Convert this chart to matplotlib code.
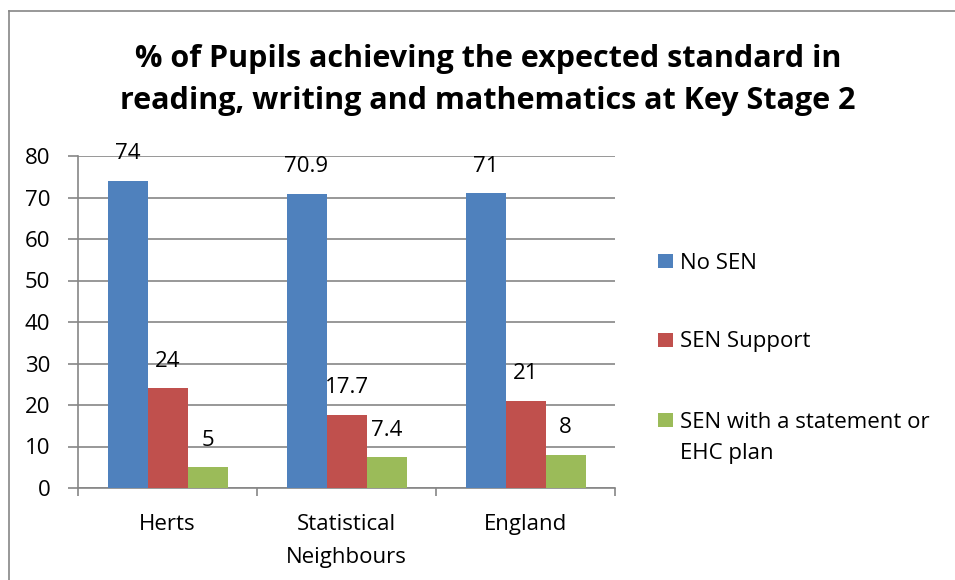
import matplotlib
matplotlib.use("Agg")
import matplotlib.pyplot as plt
import numpy as np
from matplotlib.lines import Line2D
from matplotlib.patches import Rectangle

plt.rcParams['font.family'] = ['Open Sans', 'DejaVu Sans']

categories = ["Herts", "Statistical\nNeighbours", "England"]
series_names = ["No SEN", "SEN Support", "SEN with a statement or\nEHC plan"]
no_sen = [74, 70.9, 71]
sen_support = [24, 17.7, 21]
sen_ehc = [5, 7.4, 8]
label_text = [["74", "70.9", "71"], ["24", "17.7", "21"], ["5", "7.4", "8"]]
colors = ["#4F81BD", "#C0504D", "#9BBB59"]
yticks = [0, 10, 20, 30, 40, 50, 60, 70, 80]

FS = 16
W, H = 955, 580

fig = plt.figure(figsize=(9.55, 5.8), dpi=100)
ax = fig.add_axes([78/W, 1-488/H, (615-78)/W, (488-156)/H])

x = np.arange(len(categories))
w = 40/179
series = [no_sen, sen_support, sen_ehc]
for i, (vals, c, name) in enumerate(zip(series, colors, series_names)):
    pos = x + (i-1)*w
    ax.bar(pos, vals, width=w, color=c, label=name, zorder=3, linewidth=0)
    for p, v, t in zip(pos, vals, label_text[i]):
        ax.annotate(t, (p, v), xytext=(0, 19.5), textcoords='offset points',
                    ha='center', va='center', fontsize=FS, color='black', zorder=4)

ax.set_xlim(-0.5, 2.5)
ax.set_ylim(0, 80)
ax.set_yticks(yticks)
ax.set_yticklabels([str(t) for t in yticks], fontsize=FS)
ax.yaxis.grid(True, color='#868686', linewidth=1.2, zorder=1)
ax.set_xticks([-0.5, 0.5, 1.5, 2.5])
ax.set_xticklabels([])
ax.set_xticks(x, minor=True)
ax.set_xticklabels(categories, minor=True, fontsize=FS, linespacing=1.7)
ax.tick_params(axis='x', which='minor', length=0, pad=19)
ax.tick_params(axis='x', which='major', length=6, color='#868686', width=1.2)
ax.tick_params(axis='y', length=7, color='#868686', width=1.2, pad=13)
for s in ['top', 'right']:
    ax.spines[s].set_visible(False)
for s in ['left', 'bottom']:
    ax.spines[s].set_color('#868686')
    ax.spines[s].set_linewidth(1.2)

# legend drawn manually (entries aligned to their first line, as in the reference)
leg_y = [261, 340, 420]
for c, name, yc in zip(colors, series_names, leg_y):
    fig.add_artist(Rectangle((658/W, 1-(yc+7)/H), 15/W, 14/H, transform=fig.transFigure,
                             facecolor=c, edgecolor='none'))
    for k, line in enumerate(name.split("\n")):
        fig.text(680/W, 1-(yc+2+k*32)/H, line, ha='left', va='center', fontsize=FS)

fig.text(488/W, 1-80/H, "% of Pupils achieving the expected standard in\nreading, writing and mathematics at Key Stage 2",
         ha='center', va='center', fontsize=22, fontweight='bold', linespacing=1.5)

fig.add_artist(Line2D([9/W, 9/W], [0, 1-11/H], transform=fig.transFigure, color='#868686', linewidth=1.2))
fig.add_artist(Line2D([9/W, 1], [1-11/H, 1-11/H], transform=fig.transFigure, color='#868686', linewidth=1.2))

fig.savefig("out.png", dpi=100)
